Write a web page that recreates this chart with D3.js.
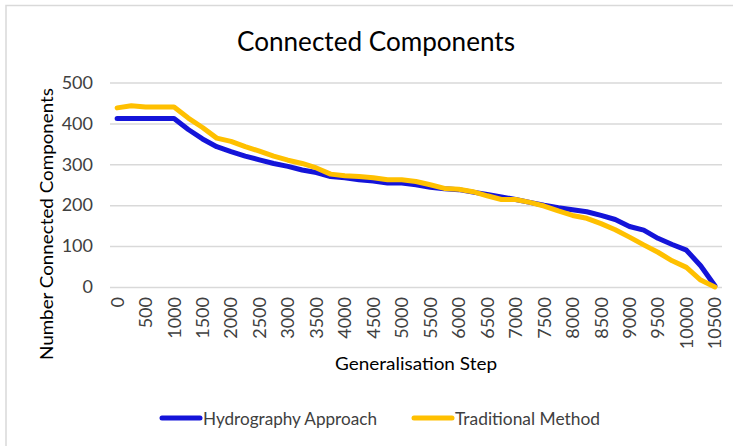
<!DOCTYPE html>
<html>
<head>
<meta charset="utf-8">
<script src="https://cdn.jsdelivr.net/npm/d3@7/dist/d3.min.js"></script>
<style>
  html, body { margin: 0; padding: 0; background: #fff; }
  svg { display: block; font-family: Lato, "Open Sans", sans-serif; }
</style>
</head>
<body>
<svg id="chart" width="733" height="446"></svg>
<script>
// Generalisation steps (category axis), every 250
const steps = d3.range(0, 10501, 250);
// Labels shown on the x axis
const stepLabels = d3.range(0, 10501, 500);
// Number of connected components per step
const hydrography = [412, 412, 412, 412, 412, 385, 362, 343, 331, 320, 311, 302, 295, 286, 280, 270,
  267, 262, 259, 254, 254, 250, 244, 240, 238, 232, 226, 220, 214, 207, 200, 194,
  189, 184, 175, 165, 148, 139, 119, 104, 90, 52, 3];
const traditional = [438, 443, 440, 440, 440, 413, 390, 364, 356, 343, 332, 320, 310, 302, 291, 276,
  272, 270, 267, 262, 262, 258, 250, 241, 239, 233, 223, 214, 214, 207, 198, 186,
  175, 168, 155, 140, 122, 103, 85, 64, 48, 17, 0];
const yTicks = [0, 100, 200, 300, 400, 500];
const seriesNames = ["Hydrography Approach", "Traditional Method"];
const seriesColors = ["#1414D9", "#FFC000"];

const svg = d3.select("#chart");
const plot = { left: 110, right: 722, top: 82.5, bottom: 287 };

// chart frame
svg.append("rect")
  .attr("x", 6).attr("y", 5.5).attr("width", 800).attr("height", 500)
  .attr("fill", "none").attr("stroke", "#D9D9D9").attr("stroke-width", 1.5);

const x = d3.scalePoint().domain(steps).range([plot.left, plot.right]).padding(0.5);
const y = d3.scaleLinear().domain([0, 500]).range([plot.bottom, plot.top]);

// y axis with gridlines
const yAxis = svg.append("g")
  .attr("transform", `translate(${plot.left},0)`)
  .call(d3.axisLeft(y).tickValues(yTicks).tickSize(-(plot.right - plot.left)).tickPadding(17));
yAxis.select(".domain").remove();
yAxis.selectAll(".tick line").attr("stroke", "#D9D9D9").attr("stroke-width", 1.5);
yAxis.selectAll(".tick text")
  .attr("fill", "#404040").style("font-size", "18px")
  .style("font-family", "Lato, sans-serif");

// x axis labels, rotated
const xAxis = svg.append("g")
  .attr("transform", `translate(0,${plot.bottom})`)
  .call(d3.axisBottom(x).tickValues(stepLabels).tickSize(0));
xAxis.select(".domain").remove();
xAxis.selectAll(".tick text")
  .attr("fill", "#404040").style("font-size", "18px")
  .style("font-family", "Lato, sans-serif")
  .attr("text-anchor", "end")
  .attr("transform", "translate(6,10) rotate(-90)")
  .attr("x", 0).attr("y", 0).attr("dy", "0");

// series lines (traditional drawn last, on top)
const line = d3.line().x((d, i) => x(steps[i])).y(d => y(d));
[hydrography, traditional].forEach((vals, k) => {
  svg.append("path")
    .datum(vals)
    .attr("d", line)
    .attr("fill", "none")
    .attr("stroke", seriesColors[k])
    .attr("stroke-width", 5)
    .attr("stroke-linejoin", "round")
    .attr("stroke-linecap", "round");
});

// title
svg.append("text")
  .attr("x", 376).attr("y", 51)
  .attr("text-anchor", "middle")
  .attr("fill", "#000")
  .style("font-size", "27px")
  .attr("textLength", 278).attr("lengthAdjust", "spacingAndGlyphs")
  .text("Connected Components");

// axis titles
svg.append("text")
  .attr("transform", "translate(53,224) rotate(-90)")
  .attr("text-anchor", "middle")
  .attr("fill", "#000")
  .style("font-size", "18px")
  .attr("textLength", 272).attr("lengthAdjust", "spacingAndGlyphs")
  .text("Number Connected Components");

svg.append("text")
  .attr("x", 416).attr("y", 370)
  .attr("text-anchor", "middle")
  .attr("fill", "#000")
  .style("font-size", "18px")
  .attr("textLength", 162).attr("lengthAdjust", "spacingAndGlyphs")
  .text("Generalisation Step");

// legend
const legendItems = [
  { x: 160, textLen: 174 },
  { x: 412, textLen: 145 }
];
legendItems.forEach((it, k) => {
  const g = svg.append("g").attr("transform", `translate(${it.x},418)`);
  g.append("line")
    .attr("x1", 2).attr("x2", 40).attr("y1", 0).attr("y2", 0)
    .attr("stroke", seriesColors[k]).attr("stroke-width", 5).attr("stroke-linecap", "round");
  g.append("text")
    .attr("x", 43).attr("y", 6.5)
    .attr("fill", "#404040")
    .style("font-size", "18px")
    .attr("textLength", it.textLen).attr("lengthAdjust", "spacingAndGlyphs")
    .text(seriesNames[k]);
});
</script>
</body>
</html>
